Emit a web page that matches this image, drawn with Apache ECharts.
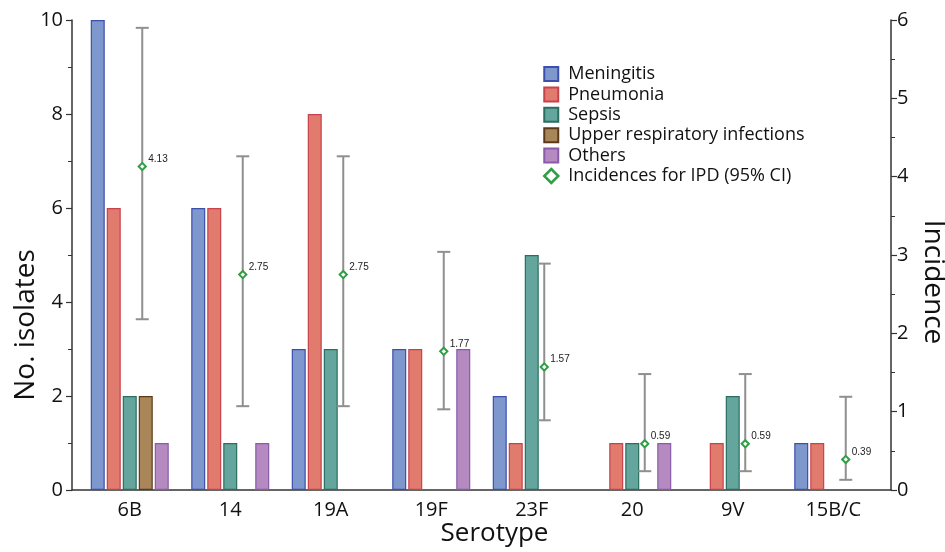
<!DOCTYPE html>
<html>
<head>
<meta charset="utf-8">
<script src="https://cdn.jsdelivr.net/npm/echarts@6/dist/echarts.min.js"></script>
<style>html,body{margin:0;padding:0;background:#fff;}#c{width:945px;height:552px;}</style>
</head>
<body>
<div id="c"></div>
<script>
const categories = ['6B', '14', '19A', '19F', '23F', '20', '9V', '15B/C'];
const meningitis = [10, 6, 3, 3, 2, 0, 0, 1];
const pneumonia  = [6, 6, 8, 3, 1, 1, 1, 1];
const sepsis     = [2, 1, 3, 0, 5, 1, 2, 0];
const upperResp  = [2, 0, 0, 0, 0, 0, 0, 0];
const others     = [1, 1, 0, 3, 0, 1, 0, 0];
const incidence  = [4.13, 2.75, 2.75, 1.77, 1.57, 0.59, 0.59, 0.39];
const ciLow      = [2.18, 1.07, 1.07, 1.03, 0.89, 0.24, 0.24, 0.13];
const ciHigh     = [5.90, 4.26, 4.26, 3.04, 2.89, 1.48, 1.48, 1.19];
const leftTicks  = [0, 2, 4, 6, 8, 10];
const rightTicks = [0, 1, 2, 3, 4, 5, 6];

const FONT = '"Open Sans", Lato, sans-serif';
const chart = echarts.init(document.getElementById('c'), null, {renderer: 'canvas'});

const barDefs = [
  {name: 'Meningitis', data: meningitis, color: '#7e97cd', border: '#3d4fae'},
  {name: 'Pneumonia', data: pneumonia, color: '#e07b6d', border: '#c9414b'},
  {name: 'Sepsis', data: sepsis, color: '#64a69d', border: '#2b6e5f'},
  {name: 'Upper respiratory infections', data: upperResp, color: '#a88658', border: '#5b3a1c'},
  {name: 'Others', data: others, color: '#b58ac0', border: '#8b5aa9'}
];
const incName = 'Incidences for IPD (95% CI)';
const green = '#2f9e44';

const barSeries = barDefs.map(d => ({
  name: d.name,
  type: 'bar',
  xAxisIndex: 1,
  yAxisIndex: 2,
  barWidth: 14,
  barGap: '14.3%',
  data: d.data.map(v => v === 0 ? null : v),
  itemStyle: {color: d.color, borderColor: d.border, borderWidth: 1.2},
  emphasis: {disabled: true},
  animation: false
}));

const incData = categories.map((c, i) => [i, incidence[i], ciLow[i], ciHigh[i]]);

const customSeries = {
  name: incName,
  type: 'custom',
  xAxisIndex: 1,
  yAxisIndex: 3,
  encode: {x: 0, y: 1},
  data: incData,
  z: 10,
  animation: false,
  renderItem: function (params, api) {
    const i = api.value(0);
    const x = api.coord([i, 0])[0] + 12.5;
    const yv = api.coord([i, api.value(1)])[1];
    const yl = api.coord([i, api.value(2)])[1];
    const yh = api.coord([i, api.value(3)])[1];
    const gray = '#8f8f8f';
    const cap = 6.5, d = 3.6;
    return {
      type: 'group',
      children: [
        {type: 'line', shape: {x1: x, y1: yh, x2: x, y2: yl}, style: {stroke: gray, lineWidth: 2}},
        {type: 'line', shape: {x1: x - cap, y1: yh, x2: x + cap, y2: yh}, style: {stroke: gray, lineWidth: 2}},
        {type: 'line', shape: {x1: x - cap, y1: yl, x2: x + cap, y2: yl}, style: {stroke: gray, lineWidth: 2}},
        {type: 'polygon', shape: {points: [[x, yv - d], [x + d, yv], [x, yv + d], [x - d, yv]]},
         style: {fill: '#ffffff', stroke: green, lineWidth: 2}},
        {type: 'text', style: {text: api.value(1).toFixed(2), x: x + 6, y: yv - 7.5,
          fontSize: 10, fontFamily: 'Arial, "Liberation Sans", sans-serif', fill: '#222',
          align: 'left', verticalAlign: 'middle'}}
      ]
    };
  }
};

const axisLineStyle = {color: '#333', width: 1.5};

const option = {
  backgroundColor: '#ffffff',
  animation: false,
  grid: [
    {left: 72, right: 54, top: 20, bottom: 62, containLabel: false, outerBoundsMode: 'none'},
    {left: 79.5, right: 61.5, top: 20, bottom: 62, containLabel: false, outerBoundsMode: 'none'}
  ],
  legend: {
    orient: 'vertical',
    left: 543,
    top: 64,
    padding: 0,
    itemWidth: 14,
    itemHeight: 14,
    itemGap: 0.4,
    selectedMode: false,
    textStyle: {fontSize: 18, fontFamily: FONT, color: '#111', lineHeight: 20, padding: [0, 0, 0, 5]},
    data: barDefs.map(d => ({name: d.name, icon: 'rect'})).concat([{
      name: incName,
      icon: 'path://M0,-1L1,0L0,1L-1,0Z',
      itemStyle: {color: '#ffffff', borderColor: green, borderWidth: 2.5}
    }])
  },
  xAxis: [
    {
      gridIndex: 0, type: 'value', min: 0, max: 1,
      axisLine: {show: true, onZero: false, lineStyle: axisLineStyle},
      axisTick: {show: false}, axisLabel: {show: false}, splitLine: {show: false}
    },
    {
      gridIndex: 1, type: 'category', data: categories,
      axisLine: {show: false}, axisTick: {show: false}, splitLine: {show: false},
      axisLabel: {fontSize: 20, fontFamily: FONT, color: '#111', margin: 10},
      name: 'Serotype', nameLocation: 'middle', nameGap: 31, nameMoveOverlap: false,
      nameTextStyle: {fontSize: 26, fontFamily: FONT, color: '#111', padding: [0, 0, 0, 26]}
    }
  ],
  yAxis: [
    {
      gridIndex: 0, type: 'value', position: 'left', min: leftTicks[0], max: leftTicks[leftTicks.length - 1], interval: 2,
      axisLine: {show: true, lineStyle: axisLineStyle},
      axisTick: {show: true, length: 6, lineStyle: {color: '#333', width: 1.2}},
      minorTick: {show: true, splitNumber: 2, length: 4, lineStyle: {color: '#333', width: 1}},
      splitLine: {show: false},
      axisLabel: {fontSize: 20, fontFamily: FONT, color: '#111', margin: 9},
      name: 'No. isolates', nameLocation: 'middle', nameRotate: 90, nameGap: 32, nameMoveOverlap: false,
      nameTextStyle: {fontSize: 28, fontFamily: FONT, color: '#111', padding: [0, 140, 0, 0]}
    },
    {
      gridIndex: 0, type: 'value', position: 'right', min: rightTicks[0], max: rightTicks[rightTicks.length - 1], interval: 1,
      axisLine: {show: true, lineStyle: axisLineStyle},
      axisTick: {show: true, length: 6, lineStyle: {color: '#333', width: 1.2}},
      minorTick: {show: true, splitNumber: 2, length: 4, lineStyle: {color: '#333', width: 1}},
      splitLine: {show: false},
      axisLabel: {fontSize: 20, fontFamily: FONT, color: '#111', margin: 6},
      name: 'Incidence', nameLocation: 'middle', nameRotate: -90, nameGap: 23,
      nameTextStyle: {fontSize: 28, fontFamily: FONT, color: '#111', padding: [0, 0, 0, 54]}
    },
    {gridIndex: 1, type: 'value', show: false, min: 0, max: 10, splitLine: {show: false}},
    {gridIndex: 1, type: 'value', show: false, min: 0, max: 6, splitLine: {show: false}}
  ],
  series: barSeries.concat([customSeries])
};
chart.setOption(option);
</script>
</body>
</html>
